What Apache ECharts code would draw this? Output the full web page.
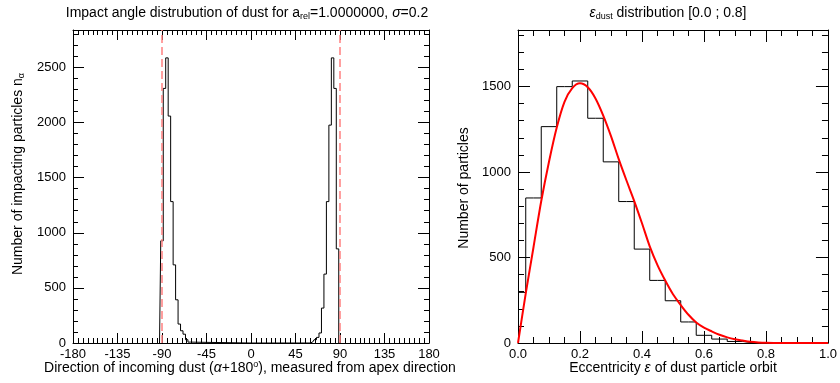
<!DOCTYPE html>
<html><head><meta charset="utf-8">
<script src="https://cdn.jsdelivr.net/npm/echarts@6/dist/echarts.min.js"></script>
<style>html,body{margin:0;padding:0;background:#fff}#c{width:840px;height:383px}</style>
</head><body><div id="c"></div>
<script>
// ---- data ----
const angleCenters = [-92.5,-90,-87.5,-85,-82.5,-80,-77.5,-75,-72.5,-70,-67.5,-65,-62.5,-60,
                      60,62.5,65,67.5,70,72.5,75,77.5,80,82.5,85,87.5,90];
const angleCounts  = [0,927,2310,2587,2059,1283,709,392,172,111,80,30,8,0,
                      0,10,30,51,91,317,625,1283,1977,2587,2310,854,0];
const apexLines = [-90, 90];

const eccCenters = [0,0.05,0.10,0.15,0.20,0.25,0.30,0.35,0.40,0.45,0.50,0.55,0.60,0.65,0.70,0.75,0.80,0.85,0.90,0.95,1.0];
const eccCounts  = [296,848,1265,1499,1532,1314,1059,827,549,366,247,123,45,23,9,3,0,0,0,0,0];

const fitEcc = [0,0.025,0.05,0.075,0.10,0.125,0.15,0.175,0.20,0.225,0.25,0.275,0.30,0.325,0.35,0.375,0.40,0.425,0.45,0.475,0.50,0.525,0.55,0.575,0.60,0.625,0.65,0.675,0.70,0.725,0.75,0.775,0.80,0.85,0.90,0.95,1.0];
const fitVal = [0,290,560,830,1060,1260,1410,1490,1518,1495,1430,1330,1210,1075,950,830,700,565,455,365,285,222,165,120,90,68,48,33,22,14,7,3,1,0,0,0,0];

const leftX = {min:-180, max:180, step:45, minor:9};
const leftY = {min:0, max:2840, step:500, minorStep:100};
const rightX = {min:0, max:1, step:0.2, minor:4};
const rightY = {min:0, max:1830, step:500, minorStep:100};

const FONT = "'Liberation Sans', Arial, Helvetica, sans-serif";
const pairs = (a,b) => a.map((v,i)=>[v,b[i]]);

function xAxes(grid, cfg, majLen, minLen, fmt) {
  const common = {type:'value', gridIndex:grid, min:cfg.min, max:cfg.max, interval:cfg.step,
    axisLine:{show:true, onZero:false, lineStyle:{color:'#000', width:1}},
    axisTick:{show:true, inside:true, length:majLen, lineStyle:{color:'#000'}},
    minorTick:{show:true, splitNumber:cfg.minor, length:minLen, lineStyle:{color:'#000'}},
    splitLine:{show:false}, minorSplitLine:{show:false}};
  return [
    Object.assign({}, common, {position:'bottom',
      axisLabel:{show:true, color:'#000', fontSize:13, fontFamily:FONT, margin:5, formatter:fmt}}),
    Object.assign({}, common, {position:'top', axisLabel:{show:false}})
  ];
}
function yAxes(grid, cfg, majLen, minLen) {
  const base = {type:'value', gridIndex:grid, min:cfg.min, max:cfg.max,
    splitLine:{show:false}};
  return [
    Object.assign({}, base, {position:'left', interval:cfg.step,
      axisLine:{show:true, onZero:false, lineStyle:{color:'#000'}},
      axisTick:{show:true, inside:true, length:majLen, lineStyle:{color:'#000'}},
      axisLabel:{show:true, color:'#000', fontSize:13, fontFamily:FONT, margin:7,
                 showMaxLabel:false, formatter:v=>String(v)}}),
    Object.assign({}, base, {position:'left', interval:cfg.minorStep,
      axisLine:{show:false, onZero:false}, axisTick:{show:true, inside:true, length:minLen, lineStyle:{color:'#000'}},
      axisLabel:{show:false}}),
    Object.assign({}, base, {position:'right', interval:cfg.step,
      axisLine:{show:true, onZero:false, lineStyle:{color:'#000'}},
      axisTick:{show:true, inside:true, length:majLen, lineStyle:{color:'#000'}},
      axisLabel:{show:false}}),
    Object.assign({}, base, {position:'right', interval:cfg.minorStep,
      axisLine:{show:false, onZero:false}, axisTick:{show:true, inside:true, length:minLen, lineStyle:{color:'#000'}},
      axisLabel:{show:false}})
  ];
}

const rich = {
  sub:{fontSize:9, fontFamily:FONT, padding:[7,0,0,0], lineHeight:10},
  sup:{fontSize:9, fontFamily:FONT, padding:[0,0,7,0], lineHeight:10},
  g:{fontSize:14, fontFamily:FONT, fontStyle:'italic'}
};
function txt(x, y, text, rot) {
  return {type:'text', x:x, y:y, rotation:rot||0,
    style:{text:text, rich:rich, fontSize:14, fontFamily:FONT, fill:'#000',
      align:'center', verticalAlign:'middle', textAlign:'center', textVerticalAlign:'middle'}};
}

const chart = echarts.init(document.getElementById('c'), null, {renderer:'canvas'});
chart.setOption({
  animation:false,
  backgroundColor:'#fff',
  grid:[{left:73, top:30, width:356, height:313},
        {left:518, top:30, width:310, height:313}],
  xAxis:[...xAxes(0, leftX, 10, 5, v=>String(v)),
         ...xAxes(1, rightX, 12, 6, v=>v.toFixed(1))],
  yAxis:[...yAxes(0, leftY, 11, 5), ...yAxes(1, rightY, 12, 6)],
  series:[
    {type:'line', xAxisIndex:0, yAxisIndex:0, step:'middle', symbol:'none',
     data:pairs(angleCenters, angleCounts), lineStyle:{color:'#000', width:1},
     markLine:{silent:true, symbol:'none', label:{show:false},
       lineStyle:{color:'#ff8080', type:[8,4], width:1.5},
       data:apexLines.map(v=>({xAxis:v}))}},
    {type:'line', xAxisIndex:2, yAxisIndex:4, step:'middle', symbol:'none',
     data:pairs(eccCenters, eccCounts), lineStyle:{color:'#000', width:1}},
    {type:'line', xAxisIndex:2, yAxisIndex:4, smooth:0.3, symbol:'none',
     data:pairs(fitEcc, fitVal), lineStyle:{color:'#ff0000', width:2}}
  ],
  graphic:[
    txt(247, 13, 'Impact angle distrubution of dust for a{sub|rel}=1.0000000, {g|σ}=0.2'),
    txt(668, 13, '{g|ε}{sub|dust} distribution [0.0 ; 0.8]'),
    txt(250, 368, 'Direction of incoming dust ({g|α}+180{sup|o}), measured from apex direction'),
    txt(673, 368, 'Eccentricity {g|ε} of dust particle orbit'),
    txt(18.5, 174, 'Number of impacting particles n{sub|α}', Math.PI/2),
    txt(464, 188, 'Number of particles', Math.PI/2)
  ]
});
</script></body></html>
